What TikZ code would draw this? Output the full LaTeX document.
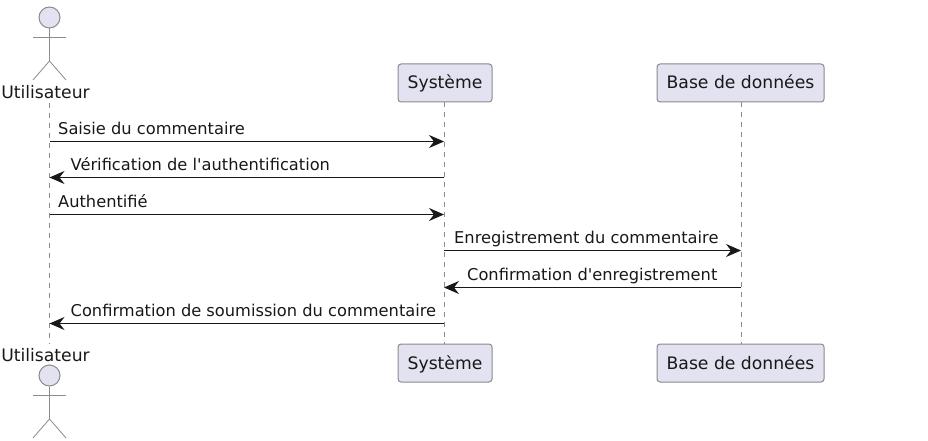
\documentclass[tikz,border=0pt]{standalone}
\usepackage{fontspec}
\newfontfamily\diagfont{DejaVu Sans}
\usetikzlibrary{arrows.meta}
\definecolor{pfill}{HTML}{E2E2F0}
\definecolor{pline}{HTML}{8A8A8F}
\definecolor{ink}{HTML}{181818}
\tikzset{
  x=1pt,y=-1pt,
  participant/.style={draw=pline,fill=pfill,rounded corners=3pt,line width=1pt,minimum height=38pt,inner sep=0pt,text height=15pt,text depth=3pt,text=ink,font=\diagfont\fontsize{17.2pt}{20pt}\selectfont},
  actorlabel/.style={inner sep=0pt,text=ink,font=\diagfont\fontsize{17.2pt}{20pt}\selectfont},
  lifeline/.style={draw=pline,line width=0.8pt,dash pattern=on 5pt off 5pt},
  limb/.style={draw=pline,line width=0.8pt},
  head/.style={draw=pline,fill=pfill,line width=1pt,circle,minimum size=21pt,inner sep=0pt},
  msg/.style={draw=ink,line width=1.2pt,-{Stealth[length=15pt,width=13pt,inset=5pt]}},
  msglabel/.style={anchor=base west,inner sep=0pt,text=ink,font=\diagfont\fontsize{16.25pt}{19pt}\selectfont},
}
\begin{document}
\begin{tikzpicture}
\useasboundingbox (0,0) rectangle (928,441);
% participants
\node[participant,minimum width=94pt] (sysT) at (445,83) {Système};
\node[participant,minimum width=167pt] (dbT) at (740.5,83) {Base de données};
\node[participant,minimum width=94pt] (sysB) at (445,363) {Système};
\node[participant,minimum width=167pt] (dbB) at (740.5,363) {Base de données};
\node[actorlabel] (userT) at (45.5,92) {Utilisateur};
\node[actorlabel] (userB) at (45.5,355) {Utilisateur};
\coordinate (userTl) at (49.5,103);
\coordinate (userBl) at (49.5,344);
\coordinate (sysTl) at (444,102);
\coordinate (sysBl) at (444,344);
\coordinate (dbTl) at (741,102);
\coordinate (dbBl) at (741,344);
% lifelines
\draw[lifeline] (userTl) -- (userBl);
\draw[lifeline] (sysTl) -- (sysBl);
\draw[lifeline] (dbTl) -- (dbBl);
% top actor
\node[head] (headT) at (49.5,17.5) {};
\coordinate (hipT) at (49.5,61);
\coordinate (armLT) at (33,37.5);
\coordinate (armRT) at (66,37.5);
\coordinate (legLT) at (33,80);
\coordinate (legRT) at (66,80);
\draw[limb] (headT.south) -- (hipT);
\draw[limb] (armLT) -- (armRT);
\draw[limb] (legLT) -- (hipT) -- (legRT);
% bottom actor
\node[head] (headB) at (49.5,375.5) {};
\coordinate (hipB) at (49.5,419);
\coordinate (armLB) at (33,395.5);
\coordinate (armRB) at (66,395.5);
\coordinate (legLB) at (33,438);
\coordinate (legRB) at (66,438);
\draw[limb] (headB.south) -- (hipB);
\draw[limb] (armLB) -- (armRB);
\draw[limb] (legLB) -- (hipB) -- (legRB);
% message anchors
\foreach \n/\y in {1/141.5,2/177.5,3/214.5,4/250.5,5/287.5,6/323.5}{
  \coordinate (u\n) at (49.5,\y);
  \coordinate (s\n) at (444,\y);
  \coordinate (d\n) at (741,\y);
}
\draw[msg] (u1) -- (s1);
\draw[msg] (s2) -- (u2);
\draw[msg] (u3) -- (s3);
\draw[msg] (s4) -- (d4);
\draw[msg] (d5) -- (s5);
\draw[msg] (s6) -- (u6);
% labels
\node[msglabel] (m1) at (58,134.5) {Saisie du commentaire};
\node[msglabel] (m2) at (70.5,170.5) {Vérification de l'authentification};
\node[msglabel] (m3) at (58,207.5) {Authentifié};
\node[msglabel] (m4) at (454,243.5) {Enregistrement du commentaire};
\node[msglabel] (m5) at (467,280.5) {Confirmation d'enregistrement};
\node[msglabel] (m6) at (70.5,316.5) {Confirmation de soumission du commentaire};
\end{tikzpicture}
\end{document}
